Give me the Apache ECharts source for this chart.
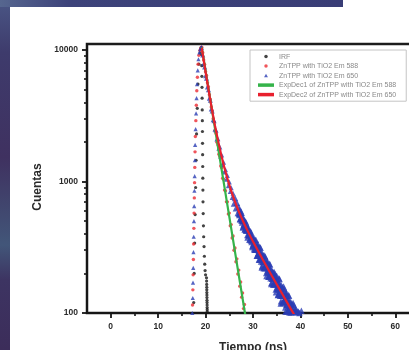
<!DOCTYPE html>
<html><head><meta charset="utf-8">
<script src="https://cdn.jsdelivr.net/npm/echarts@6/dist/echarts.min.js"></script>
<style>html,body{margin:0;padding:0;background:#fff}#c{width:409px;height:350px}</style>
</head><body><div id="c"></div>
<script>
// ---- data ----
const seriesNames = ['IRF', 'ZnTPP with TiO2 Em 588', 'ZnTPP with TiO2 Em 650',
  'ExpDec1 of ZnTPP with TiO2 Em 588', 'ExpDec2 of ZnTPP with TiO2 Em 650'];

const irfTime = [17.5,17.6,17.7,17.8,17.9,18.0,18.1,18.25,18.4,18.6,18.85,19.05,
  19.15,19.2,19.22,19.25,19.27,19.3,19.32,19.34,19.36,19.38,19.4,19.42,19.44,19.46,
  19.5,19.55,19.6,19.68,19.75,19.82,19.9,20.0,
  20.2,20.22,20.24,20.25,20.26,20.27,20.28,20.29,20.3,20.31,20.32,20.33,20.34,20.35,20.36];
const irfCounts = [120,200,340,560,900,1450,2300,3600,5500,7800,9500,10400,
  9200,7600,6300,5200,4300,3500,2900,2400,1950,1600,1300,1060,860,700,
  570,460,380,320,270,235,210,195,
  185,175,165,157,150,143,137,131,125,120,115,110,106,102,98];

const em588Time = [17.25,17.32,17.38,17.43,17.48,17.53,17.58,17.63,17.68,17.73,17.78,17.85,17.95,18.05,18.15,18.28,18.42,18.6,18.8,19.0,19.2,
  19.4,19.6,19.8,20.0,20.2,20.4,20.6,20.8,21.0,21.2,21.4,21.6,21.8,22.0,22.2,22.4,22.6,22.8,23.0,23.2,23.4,23.6,23.8,24.0,
  24.2,24.4,24.6,24.8,25.0,25.2,25.4,25.6,25.8,26.0,26.2,26.4,26.6,26.8,27.0,27.2,27.4,27.6,27.8,28.0,28.2,28.4,28.6,28.8];
const em588Counts = [115,150,195,255,335,440,575,750,980,1280,1680,2200,2900,3800,4900,6200,7800,9100,9900,10300,10500,
  9540,8390,7760,6820,6390,5640,5250,4560,4230,3680,3470,3000,2840,2440,2320,1990,1900,1610,1550,1310,1270,1060,1040,860,
  850,700,700,565,575,460,470,372,385,300,312,245,258,198,212,160,172,132,142,108,116,86,95,70];

const em650Time = [17.2,17.3,17.35,17.4,17.45,17.5,17.55,17.6,17.65,17.7,17.75,17.8,17.9,18.0,18.1,18.2,18.35,18.5,18.7,18.9,19.1,19.2,
  19.4,19.6,19.8,20.0,20.2,20.4,20.6,20.8,21.0,21.2,21.4,21.6,21.8,22.0,22.2,22.4,22.6,22.8,23.0,23.2,23.4,23.6,23.8,24.0,
  24.2,24.4,24.6,24.8,25.0,25.2,25.4,25.6,25.8,26.0,26.2,26.4,26.6,26.8,
  27.0,27.1,27.2,27.3,27.4,27.5,27.6,27.7,27.8,27.9,28.0,28.1,28.2,28.3,28.4,28.5,28.6,28.7,28.8,28.9,
  29.0,29.1,29.2,29.3,29.4,29.5,29.6,29.7,29.8,29.9,30.0,30.1,30.2,30.3,30.4,30.5,30.6,30.7,30.8,30.9,
  31.0,31.1,31.2,31.3,31.4,31.5,31.6,31.7,31.8,31.9,32.0,32.1,32.2,32.3,32.4,32.5,32.6,32.7,32.8,32.9,
  33.0,33.1,33.2,33.3,33.4,33.5,33.6,33.7,33.8,33.9,34.0,34.1,34.2,34.3,34.4,34.5,34.6,34.7,34.8,34.9,
  35.0,35.1,35.2,35.3,35.4,35.5,35.6,35.7,35.8,35.9,36.0,36.1,36.2,36.3,36.4,36.5,36.6,36.7,36.8,36.9,
  37.0,37.1,37.2,37.3,37.4,37.5,37.6,37.7,37.8,37.9,38.0,38.1,38.2,38.3,38.4,38.5,38.6,38.7,38.8,38.9,
  39.0,39.1,39.2,39.3,39.4,39.5,39.6,39.7,39.8,39.9,40.0,40.1,40.2,40.3,40.4,40.5,40.6];
const em650Counts = [100,130,170,220,290,380,500,650,850,1100,1450,1900,2500,3300,4300,5500,7000,8500,9600,10200,10500,10400,
  9150,7850,7420,6380,6100,5230,4990,4290,4150,3560,3430,2950,2900,2490,2450,2100,2110,1790,1830,1550,1590,1340,1400,1180,
  1230,1040,1110,930,990,840,895,755,815,680,750,625,690,575,
  640,557,581,516,574,529,579,487,509,455,506,467,502,435,463,428,479,429,391,437,
  444,388,407,362,405,373,410,346,362,324,368,331,371,303,336,302,360,310,272,325,
  336,278,299,254,304,272,314,246,266,227,271,244,274,223,249,223,267,229,201,240,
  249,206,223,189,226,202,234,184,199,170,201,182,204,167,186,167,200,171,151,180,
  192,153,168,138,172,151,181,135,149,123,153,135,156,122,140,123,153,128,110,137,
  144,115,126,103,129,113,135,101,112,92,115,102,117,92,105,93,115,96,82,103,
  108,86,95,78,97,85,102,76,100,69,98,76,104,69,96,70,86];
// in-between channels of the Em 650 tail
const em650TimeB = [27.05,27.15,27.25,27.35,27.45,27.55,27.65,27.75,27.85,27.95,
  28.05,28.15,28.25,28.35,28.45,28.55,28.65,28.75,28.85,28.95,
  29.05,29.15,29.25,29.35,29.45,29.55,29.65,29.75,29.85,29.95,
  30.05,30.15,30.25,30.35,30.45,30.55,30.65,30.75,30.85,30.95,
  31.05,31.15,31.25,31.35,31.45,31.55,31.65,31.75,31.85,31.95,
  32.05,32.15,32.25,32.35,32.45,32.55,32.65,32.75,32.85,32.95,
  33.05,33.15,33.25,33.35,33.45,33.55,33.65,33.75,33.85,33.95,
  34.05,34.15,34.25,34.35,34.45,34.55,34.65,34.75,34.85,34.95,
  35.05,35.15,35.25,35.35,35.45,35.55,35.65,35.75,35.85,35.95,
  36.05,36.15,36.25,36.35,36.45,36.55,36.65,36.75,36.85,36.95,
  37.05,37.15,37.25,37.35,37.45,37.55,37.65,37.75,37.85,37.95,
  38.05,38.15,38.25,38.35,38.45,38.55,38.65,38.75,38.85,38.95,
  39.05,39.15,39.25,39.35,39.45,39.55,39.65,39.75,39.85,39.95,
  40.05,40.15,40.25,40.35,40.45,40.55];
const em650CountsB = [568,608,518,563,595,504,542,506,447,529,
  470,505,431,469,497,422,453,425,375,443,
  395,424,362,395,419,356,384,359,318,377,
  337,361,309,338,358,304,328,308,272,322,
  284,317,255,291,318,256,285,262,222,283,
  244,272,219,250,274,219,246,226,191,244,
  210,234,189,216,237,191,213,196,166,212,
  182,204,164,187,205,165,185,170,144,183,
  156,179,137,164,184,139,162,146,118,163,
  135,156,119,142,159,121,140,127,102,141,
  116,135,103,122,137,105,121,110,88,122,
  101,116,89,106,119,90,105,95,76,106,
  87,101,77,91,103,78,91,82,66,91,
  76,88,67,80,89,67];

const fit588Time = [19.2,21,23,25,27,29];
const fit588Counts = [10470,4170,1500,540,194,70];
const fit650Time = [19.2,19.6,20,20.5,21,21.5,22,22.5,23,23.5,24,25,26,27,28,29,30,32,34,36,38,40];
const fit650Counts = [10400,8390,6810,5290,4150,3290,2645,2155,1778,1488,1262,943,735,593,490,412,350,257,191,143,107,81];

const xMajorTicks = [0,10,20,30,40,50,60];
const xMinorTicks = [5,15,25,35,45,55];
const yMajorTicks = [100,1000,10000];
const yMinorTicks = [200,300,400,500,600,700,800,900,2000,3000,4000,5000,6000,7000,8000,9000];

// ---- chart ----
const zip = (a, b) => a.map((v, i) => [v, b[i]]);
const FONT = '"Liberation Sans", Arial, sans-serif';
const chart = echarts.init(document.getElementById('c'), null, {renderer: 'canvas'});
const axisCol = '#161616';
const labelCol = '#2a2a2a';
chart.setOption({
  animation: false,
  backgroundColor: '#ffffff',
  textStyle: {fontFamily: FONT},
  graphic: [
    {type: 'rect', z: 100, shape: {x: 0, y: 0, width: 10, height: 350},
      style: {fill: new echarts.graphic.LinearGradient(0, 0, 0, 1, [
        {offset: 0, color: '#4a5685'}, {offset: 0.15, color: '#3e3b6c'}, {offset: 0.45, color: '#3f3160'},
        {offset: 0.7, color: '#425679'}, {offset: 0.8, color: '#3d3462'}, {offset: 1, color: '#3c2d5a'}])}},
    {type: 'rect', z: 100, shape: {x: 0, y: 0, width: 343, height: 7},
      style: {fill: new echarts.graphic.LinearGradient(0, 0, 1, 0, [
        {offset: 0, color: '#56668f'}, {offset: 0.2, color: '#3d437a'}, {offset: 1, color: '#393d76'}])}}
  ],
  grid: {left: 87, right: -10, top: 44, bottom: 37, show: true, borderColor: '#1c1c1c', borderWidth: 2.5,
    containLabel: false, outerBoundsMode: 'none'},
  legend: {
    left: 250, top: 50, orient: 'vertical', itemWidth: 16, itemHeight: 3.5, itemGap: 2.3,
    padding: [3, 10, 3, 8], borderColor: '#c4c4c4', borderWidth: 1, backgroundColor: '#fff',
    textStyle: {fontSize: 7, color: '#8a8a8a', lineHeight: 7.2, fontFamily: FONT},
    data: [
      {name: seriesNames[0], icon: 'circle'},
      {name: seriesNames[1], icon: 'circle'},
      {name: seriesNames[2], icon: 'path://M5,0L10,9L0,9Z'},
      {name: seriesNames[3], icon: 'rect'},
      {name: seriesNames[4], icon: 'rect'}
    ]
  },
  xAxis: [{
    type: 'value', min: -5, max: 65, position: 'bottom',
    axisLine: {onZero: false, lineStyle: {color: axisCol, width: 2}},
    axisTick: {customValues: xMajorTicks, length: 5, lineStyle: {color: axisCol, width: 1.8}},
    axisLabel: {customValues: xMajorTicks, fontSize: 8.5, fontWeight: 'bold', color: labelCol, margin: 9, fontFamily: FONT},
    splitLine: {show: false},
    name: 'Tiempo (ns)', nameLocation: 'middle', nameGap: 29,
    nameTextStyle: {fontSize: 12, fontWeight: 'bold', color: labelCol, fontFamily: FONT}
  }, {
    type: 'value', min: -5, max: 65, position: 'bottom',
    axisLine: {show: false, onZero: false},
    axisTick: {customValues: xMinorTicks, length: 3, lineStyle: {color: axisCol, width: 1.6}},
    axisLabel: {show: false}, splitLine: {show: false}
  }],
  yAxis: [{
    type: 'log', logBase: 10, min: 100, max: 11100, position: 'left',
    axisLine: {show: true, onZero: false, lineStyle: {color: axisCol, width: 2}},
    axisTick: {show: true, customValues: yMajorTicks, length: 5, lineStyle: {color: axisCol, width: 1.8}},
    axisLabel: {customValues: yMajorTicks, formatter: v => String(Math.round(v)), fontSize: 8.5, fontWeight: 'bold',
      color: labelCol, margin: 9, fontFamily: FONT},
    splitLine: {show: false},
    name: 'Cuentas', nameLocation: 'middle', nameGap: 41, nameRotate: 90,
    nameTextStyle: {fontSize: 12, fontWeight: 'bold', color: labelCol, fontFamily: FONT, padding: [0, 17, 0, 0]}
  }, {
    type: 'log', logBase: 10, min: 100, max: 11100, position: 'left',
    axisLine: {show: false, onZero: false},
    axisTick: {show: true, customValues: yMinorTicks, length: 3, lineStyle: {color: axisCol, width: 1.6}},
    axisLabel: {show: false}, splitLine: {show: false}
  }],
  series: [
    {name: seriesNames[0], type: 'scatter', data: zip(irfTime, irfCounts), symbol: 'circle', symbolSize: 3.2,
      itemStyle: {color: '#141414'}},
    {name: seriesNames[1], type: 'scatter', data: zip(em588Time, em588Counts), symbol: 'circle', symbolSize: 3.4,
      itemStyle: {color: '#ec2a32'}},
    {name: seriesNames[2], type: 'scatter',
      data: zip(em650Time, em650Counts).concat(zip(em650TimeB, em650CountsB)),
      symbol: 'triangle', symbolSize: v => (v[0] < 19.3 ? 4.2 : (v[0] < 26 ? 5 : 6.5)),
      itemStyle: {color: '#2b3db4'}},
    {name: seriesNames[3], type: 'line', data: zip(fit588Time, fit588Counts), showSymbol: false,
      lineStyle: {color: '#35b34a', width: 2.2}, itemStyle: {color: '#35b34a'}},
    {name: seriesNames[4], type: 'line', data: zip(fit650Time, fit650Counts), showSymbol: false, smooth: 0.3,
      lineStyle: {color: '#e8202e', width: 2.2}, itemStyle: {color: '#e8202e'}}
  ]
});
</script></body></html>
